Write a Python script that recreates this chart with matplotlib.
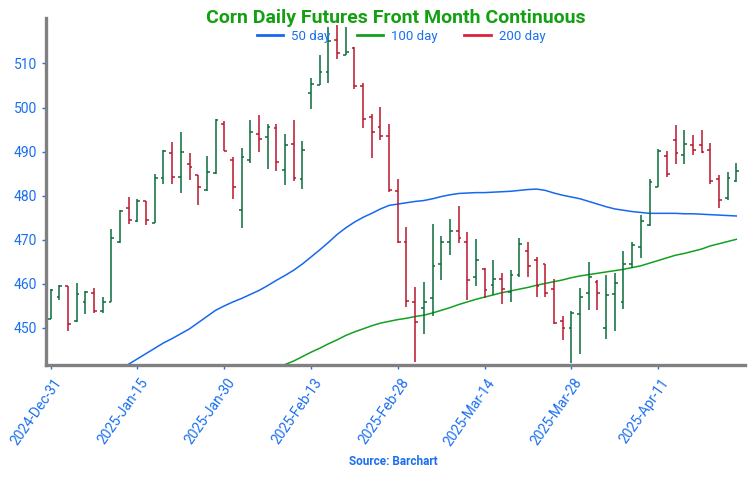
import matplotlib
matplotlib.use("Agg")
import matplotlib.pyplot as plt
import numpy as np
from matplotlib.lines import Line2D

plt.rcParams['font.family'] = ['Roboto', 'DejaVu Sans']

# OHLC, one row per trading day (2024-12-31 .. 2025-04-25)
opens = [452.1, 457.1, 459.6, 451.6, 456.0, 458.0, 453.9, 456.0, 469.5, 477.1,
         474.2, 478.9, 473.9, 484.1, 489.7, 484.2, 487.3, 484.6, 481.4, 485.1,
         496.3, 488.2, 476.7, 488.1, 493.9, 493.2, 495.4, 485.8, 491.8, 483.7,
         503.2, 505.2, 508.0, 515.3, 512.0, 513.6, 504.9, 497.9, 495.6, 493.6,
         481.1, 469.5, 455.9, 454.6, 456.9, 464.6, 469.4, 472.0, 469.4, 461.5,
         463.3, 459.8, 461.1, 458.2, 462.0, 467.5, 465.5, 464.4, 458.8, 451.6,
         450.1, 453.1, 458.0, 460.5, 449.9, 457.8, 456.0, 464.5, 468.3, 473.3,
         481.9, 489.0, 492.6, 489.2, 491.5, 491.5, 490.3, 483.7, 479.4, 483.4]
highs = [458.8, 459.7, 459.6, 460.3, 458.4, 459.0, 457.1, 472.5, 476.7, 479.7,
         479.3, 478.9, 485.0, 490.3, 492.2, 494.5, 489.6, 484.7, 489.1, 497.4,
         497.0, 488.7, 490.9, 497.2, 498.3, 496.3, 496.3, 493.9, 497.2, 492.4,
         506.6, 512.0, 518.2, 518.7, 518.2, 513.8, 505.5, 498.5, 500.1, 496.2,
         483.7, 472.8, 459.2, 460.5, 473.5, 470.9, 474.8, 477.6, 471.8, 470.1,
         463.5, 465.5, 462.4, 463.1, 470.3, 469.5, 466.1, 464.5, 461.1, 452.7,
         453.9, 459.1, 465.0, 460.8, 462.1, 462.4, 467.5, 469.5, 475.6, 483.7,
         490.5, 490.2, 496.0, 495.0, 493.7, 495.0, 491.9, 484.8, 485.4, 487.5]
lows = [452.0, 456.3, 449.4, 451.4, 453.1, 453.4, 453.5, 455.9, 469.3, 473.6,
        474.1, 473.4, 473.9, 482.6, 482.6, 480.6, 483.5, 477.9, 481.0, 485.0,
        490.1, 479.2, 472.7, 487.5, 490.0, 486.0, 485.7, 482.5, 483.3, 481.6,
        499.6, 505.0, 505.5, 511.1, 512.0, 504.3, 495.4, 488.6, 492.6, 480.8,
        469.3, 454.7, 442.3, 448.6, 452.7, 460.9, 466.5, 469.2, 456.3, 459.5,
        456.7, 457.5, 455.4, 455.9, 461.5, 461.5, 457.1, 457.1, 451.0, 447.3,
        442.1, 444.1, 454.1, 454.1, 447.5, 449.4, 454.2, 463.5, 465.8, 473.1,
        481.9, 484.3, 487.1, 487.1, 489.2, 489.6, 482.6, 477.3, 479.0, 483.2]
closes = [458.6, 459.6, 450.9, 457.8, 458.1, 453.9, 455.9, 470.5, 476.5, 474.5,
          478.9, 474.5, 484.1, 490.1, 484.2, 489.9, 486.4, 481.9, 485.3, 497.2,
          490.2, 481.9, 488.7, 494.5, 492.8, 495.5, 487.6, 491.6, 483.9, 490.3,
          505.3, 508.0, 515.0, 512.3, 512.5, 504.9, 497.5, 494.5, 493.6, 481.2,
          469.5, 456.2, 451.4, 455.8, 464.0, 469.5, 472.0, 470.3, 460.9, 465.4,
          458.7, 461.1, 458.8, 462.0, 469.0, 464.0, 459.5, 458.0, 451.2, 449.9,
          453.3, 457.1, 461.5, 458.0, 457.5, 460.2, 464.5, 468.9, 474.3, 483.2,
          490.2, 485.0, 489.6, 491.7, 490.3, 490.0, 483.4, 479.1, 483.9, 485.6]

# moving averages (start where they enter the visible range)
ma50_start = 8
ma50 = [440.7, 441.8, 443.0, 444.2, 445.4, 446.6, 447.6, 448.7, 449.8, 451.2,
        452.6, 454.0, 455.0, 455.9, 456.7, 457.6, 458.5, 459.6, 460.8, 461.9,
        463.1, 464.5, 466.1, 467.7, 469.4, 471.2, 472.7, 474.0, 475.1, 476.0,
        477.0, 477.8, 478.1, 478.4, 478.7, 478.9, 479.3, 479.8, 480.2, 480.5,
        480.6, 480.7, 480.7, 480.8, 480.9, 481.0, 481.2, 481.4, 481.5, 481.2,
        480.6, 480.1, 479.7, 479.3, 478.7, 478.1, 477.5, 477.0, 476.7, 476.4,
        476.2, 476.0, 476.0, 476.0, 476.0, 475.9, 475.9, 475.8, 475.7, 475.6,
        475.5, 475.4]
ma100_start = 27
ma100 = [441.7, 442.5, 443.5, 444.5, 445.4, 446.4, 447.3, 448.3, 449.1, 449.8,
         450.5, 451.1, 451.5, 451.9, 452.2, 452.6, 452.9, 453.4, 454.0, 454.6,
         455.3, 455.9, 456.5, 457.0, 457.5, 458.0, 458.4, 458.8, 459.2, 459.7,
         460.1, 460.5, 460.9, 461.4, 461.8, 462.1, 462.4, 462.7, 463.0, 463.3,
         463.7, 464.1, 464.7, 465.3, 465.9, 466.5, 466.9, 467.4, 467.9, 468.6,
         469.1, 469.6, 470.1]

tick_pos = [0, 10, 20, 30, 40, 50, 60, 70]
tick_labels = ['2024-Dec-31', '2025-Jan-15', '2025-Jan-30', '2025-Feb-13',
               '2025-Feb-28', '2025-Mar-14', '2025-Mar-28', '2025-Apr-11']

BLUE = '#1a6ff0'
UP = '#0a6b3a'
DOWN = '#b8162c'

fig = plt.figure(figsize=(7.5, 4.79), dpi=100)
ax = fig.add_axes([0.0613, 0.238, 0.932, 0.7244])

x = np.arange(len(opens))
o, h, l, c = map(np.array, (opens, highs, lows, closes))
cols = np.where(c >= o, UP, DOWN)
w = 0.32
ax.vlines(x, l, h, colors=cols, lw=1.1, zorder=3)
ax.hlines(o, x - w, x, colors=cols, lw=1.1, zorder=3)
ax.hlines(c, x, x + w, colors=cols, lw=1.1, zorder=3)

ax.plot(np.arange(ma50_start, ma50_start + len(ma50)), ma50, color='#1668f0', lw=1.1, zorder=2)
ax.plot(np.arange(ma100_start, ma100_start + len(ma100)), ma100, color='#12a01e', lw=1.1, zorder=2)

ax.set_xlim(-0.54, 80.0)
ax.set_ylim(441.6, 520.3)
ax.set_yticks([450, 460, 470, 480, 490, 500, 510])
ax.set_xticks(tick_pos)
ax.set_xticklabels([])
# rotated date labels, anchored a little right of and below each tick
for p, s in zip(tick_pos, tick_labels):
    ax.annotate(s, xy=(p, 0), xycoords=('data', 'axes fraction'),
                xytext=(8, -15), textcoords='offset pixels',
                rotation=55, ha='right', va='center', rotation_mode='anchor',
                color=BLUE, fontsize=10, annotation_clip=False)

for s in ['top', 'right']:
    ax.spines[s].set_visible(False)
for s in ['left', 'bottom']:
    ax.spines[s].set_color('#808080')
    ax.spines[s].set_linewidth(2.4)
ax.tick_params(colors=BLUE, labelsize=10, length=3, width=1)

ax.text(0.5, 1.0, 'Corn Daily Futures Front Month Continuous', transform=ax.transAxes,
        ha='center', va='center', color='#13a013', fontsize=14, fontweight='bold')

handles = [Line2D([0], [0], color='#1668f0', lw=2, label='50 day'),
           Line2D([0], [0], color='#12a01e', lw=2, label='100 day'),
           Line2D([0], [0], color='#e0203a', lw=2, label='200 day')]
leg = ax.legend(handles=handles, loc='upper center', bbox_to_anchor=(0.508, 1.0), ncol=3,
                frameon=False, fontsize=9.5, handlelength=2.0, columnspacing=2.0, handletextpad=0.6)
for t in leg.get_texts():
    t.set_color(BLUE)

fig.text(0.524, 0.036, 'Source: Barchart', ha='center', va='center', color=BLUE,
         fontsize=8.5, fontweight='bold')

plt.savefig('out.png', dpi=100)
